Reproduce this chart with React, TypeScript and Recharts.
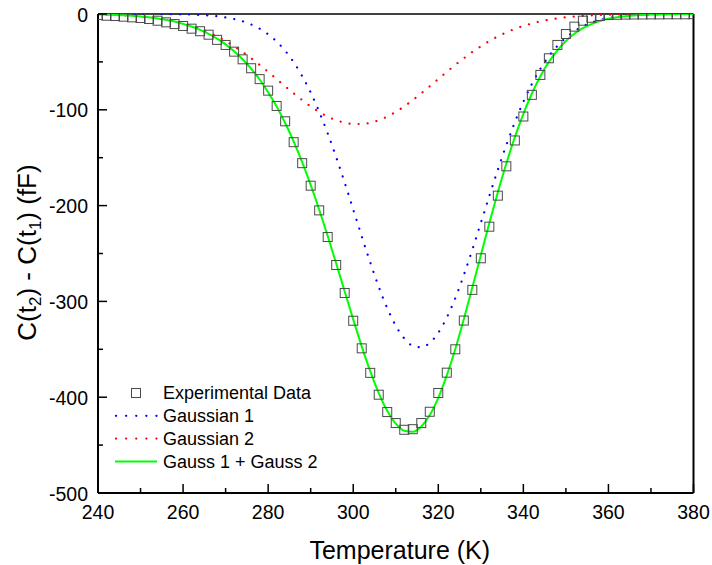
import {
  ComposedChart,
  Line,
  Scatter,
  XAxis,
  YAxis,
  ReferenceLine,
  Legend,
  Label,
} from "recharts";

const FONT = '"Liberation Sans", Arial, sans-serif';

// temperature (K), one point every 2 K
const temperature = [
  240, 242, 244, 246, 248, 250, 252, 254, 256, 258, 260, 262, 264, 266, 268,
  270, 272, 274, 276, 278, 280, 282, 284, 286, 288, 290, 292, 294, 296, 298,
  300, 302, 304, 306, 308, 310, 312, 314, 316, 318, 320, 322, 324, 326, 328,
  330, 332, 334, 336, 338, 340, 342, 344, 346, 348, 350, 352, 354, 356, 358,
  360, 362, 364, 366, 368, 370, 372, 374, 376, 378, 380,
];

const experimental = [
  -1.1, -1.8, -2.1, -2.8, -3.5, -4.2, -5.2, -7.0, -8.7, -10.5, -12.5, -15.3,
  -18.0, -21.6, -27.0, -32.3, -39.3, -47.3, -56.6, -68.0, -80.0, -96.0, -112.0,
  -133.8, -155.7, -179.2, -205.0, -232.8, -262.0, -291.2, -320.2, -349.0,
  -374.6, -397.4, -415.5, -427.0, -434.0, -433.4, -427.0, -415.2, -395.6,
  -374.4, -350.0, -320.0, -288.0, -255.0, -222.0, -189.6, -159.0, -132.0,
  -107.0, -84.4, -63.6, -46.2, -32.3, -20.9, -13.2, -7.0, -3.9, -2.1, -1.0,
  -0.8, -0.6, -0.5, -0.5, -0.4, -0.4, -0.3, -0.3, -0.3, -0.2,
];

const gaussian1 = [
  0, 0, 0, 0, 0, 0, 0, 0, -0.1, -0.2, -0.4, -0.6, -1.0, -1.5, -2.3, -3.5, -5.2,
  -7.6, -10.9, -15.3, -21.2, -28.7, -38.4, -50.3, -64.8, -82.0, -102.0, -124.6,
  -149.5, -176.1, -204.0, -232.1, -259.3, -284.8, -307.1, -325.4, -338.6,
  -346.3, -347.8, -343.2, -332.7, -316.8, -296.5, -272.5, -246.0, -218.1,
  -190.0, -162.6, -136.8, -113.0, -91.7, -73.1, -57.2, -44.0, -33.3, -24.7,
  -18.0, -12.9, -9.1, -6.3, -4.3, -2.9, -1.9, -1.2, -0.8, -0.5, -0.3, -0.2,
  -0.1, -0.1, 0,
];

const gaussian2 = [
  -0.5, -0.7, -1.0, -1.4, -1.9, -2.6, -3.4, -4.6, -6.0, -7.7, -9.9, -12.5,
  -15.6, -19.2, -23.4, -28.2, -33.7, -39.6, -46.2, -53.1, -60.4, -67.9, -75.4,
  -82.8, -89.8, -96.4, -102.2, -107.1, -110.9, -113.5, -114.8, -114.8, -113.5,
  -110.9, -107.1, -102.2, -96.4, -89.8, -82.8, -75.4, -67.9, -60.4, -53.1,
  -46.2, -39.6, -33.7, -28.2, -23.4, -19.2, -15.6, -12.5, -9.9, -7.7, -6.0,
  -4.6, -3.4, -2.6, -1.9, -1.4, -1.0, -0.7, -0.5, -0.35, -0.25, -0.15, -0.1,
  -0.1, -0.05, 0, 0, 0,
];

const gaussSum = [
  -0.5, -0.7, -1.0, -1.4, -1.9, -2.6, -3.4, -4.6, -6.1, -7.9, -10.3, -13.1,
  -16.6, -20.7, -25.7, -31.7, -38.9, -47.2, -57.1, -68.4, -81.6, -96.6, -113.8,
  -133.1, -154.6, -178.4, -204.2, -231.7, -260.4, -289.6, -318.8, -346.9,
  -372.8, -395.7, -414.2, -427.6, -435.0, -436.1, -430.6, -418.6, -400.6,
  -377.2, -349.6, -318.7, -285.6, -251.8, -218.2, -186.0, -156.0, -128.6,
  -104.2, -83.0, -64.9, -50.0, -37.9, -28.1, -20.6, -14.8, -10.5, -7.3, -5.0,
  -3.4, -2.3, -1.5, -1.0, -0.6, -0.4, -0.25, -0.1, -0.05, 0,
];

// ticks: majors get a label, minors only a short mark
const xTicks = [240, 250, 260, 270, 280, 290, 300, 310, 320, 330, 340, 350, 360, 370, 380];
const xMajor = [240, 260, 280, 300, 320, 340, 360, 380];
const yTicks = [0, -50, -100, -150, -200, -250, -300, -350, -400, -450, -500];
const yMajor = [0, -100, -200, -300, -400, -500];

const legendItems = ["Experimental Data", "Gaussian 1", "Gaussian 2", "Gauss 1 + Gauss 2"];

const data = temperature.map((t, i) => ({
  t,
  exp: experimental[i],
  g1: gaussian1[i],
  g2: gaussian2[i],
  sum: gaussSum[i],
}));

// eslint-disable-next-line @typescript-eslint/no-explicit-any
function XTick({ x, y, payload }: any) {
  const major = xMajor.includes(payload.value);
  return (
    <g>
      <line x1={x} x2={x} y1={y} y2={y - (major ? 9 : 5)} stroke="#000" strokeWidth={1.5} />
      {major && (
        <text x={x} y={y + 26} textAnchor="middle" fontSize={19.5} fontFamily={FONT} fill="#000">
          {payload.value}
        </text>
      )}
    </g>
  );
}

// eslint-disable-next-line @typescript-eslint/no-explicit-any
function YTick({ x, y, payload }: any) {
  const major = yMajor.includes(payload.value);
  return (
    <g>
      <line x1={x} x2={x + (major ? 9 : 5)} y1={y} y2={y} stroke="#000" strokeWidth={1.5} />
      {major && (
        <text x={x - 10} y={y + 7.5} textAnchor="end" fontSize={19.5} fontFamily={FONT} fill="#000">
          {payload.value}
        </text>
      )}
    </g>
  );
}

// eslint-disable-next-line @typescript-eslint/no-explicit-any
function SquareMarker({ cx, cy }: any) {
  if (cx == null || cy == null) return null;
  return (
    <rect x={cx - 4.5} y={cy - 4.5} width={9} height={9} fill="none" stroke="#4a4a4a" strokeWidth={1} />
  );
}

// eslint-disable-next-line @typescript-eslint/no-explicit-any
function XTitle({ viewBox }: any) {
  const cx = viewBox.x + viewBox.width / 2 + 4;
  return (
    <text x={cx} y={viewBox.y + 66} textAnchor="middle" fontSize={25} fontFamily={FONT} fill="#000">
      Temperature (K)
    </text>
  );
}

// eslint-disable-next-line @typescript-eslint/no-explicit-any
function YTitle({ viewBox }: any) {
  const cy = viewBox.y + viewBox.height / 2 - 1;
  const cx = 36;
  return (
    <text
      x={cx}
      y={cy}
      textAnchor="middle"
      fontSize={26}
      fontFamily={FONT}
      fill="#000"
      transform={`rotate(-90 ${cx} ${cy})`}
    >
      <tspan>C(t</tspan>
      <tspan fontSize={17} dy={5}>2</tspan>
      <tspan dy={-5}>) - C(t</tspan>
      <tspan fontSize={17} dy={5}>1</tspan>
      <tspan dy={-5}>) (fF)</tspan>
    </text>
  );
}

function LegendBox() {
  const rowY = (i: number) => 13 + i * 22.8;
  return (
    <svg width={240} height={96} style={{ display: "block" }}>
      <rect x={26.5} y={rowY(0) - 4.5} width={9} height={9} fill="none" stroke="#4a4a4a" strokeWidth={1} />
      <line x1={11} x2={52} y1={rowY(1)} y2={rowY(1)} stroke="#0000ff" strokeWidth={2.2}
        strokeDasharray="0.1 10" strokeLinecap="round" />
      <line x1={11} x2={52} y1={rowY(2)} y2={rowY(2)} stroke="#ff0000" strokeWidth={2.2}
        strokeDasharray="0.1 10" strokeLinecap="round" />
      <line x1={10} x2={52} y1={rowY(3)} y2={rowY(3)} stroke="#00ff00" strokeWidth={2} />
      {legendItems.map((label, i) => (
        <text key={label} x={58} y={rowY(i) + 6.3} fontSize={18} fontFamily={FONT} fill="#000">
          {label}
        </text>
      ))}
    </svg>
  );
}

export default function App() {
  return (
    <div style={{ width: 712, height: 565, background: "#fff" }}>
      <style>{`body { margin: 0; }`}</style>
      <ComposedChart
        width={712}
        height={565}
        data={data}
        margin={{ top: 14, right: 18.5, bottom: 0, left: 0 }}
      >
        <XAxis
          dataKey="t"
          type="number"
          domain={[240, 380]}
          ticks={xTicks}
          interval={0}
          tickSize={0}
          tickMargin={0}
          tick={<XTick />}
          tickLine={false}
          axisLine={{ stroke: "#000", strokeWidth: 2 }}
          height={72}
          allowDataOverflow
        >
          <Label content={<XTitle />} />
        </XAxis>
        <YAxis
          type="number"
          domain={[-500, 0]}
          ticks={yTicks}
          interval={0}
          tickSize={0}
          tickMargin={0}
          tick={<YTick />}
          tickLine={false}
          axisLine={{ stroke: "#000", strokeWidth: 2 }}
          width={98}
          allowDataOverflow
        >
          <Label content={<YTitle />} />
        </YAxis>
        <ReferenceLine y={0} stroke="#000" strokeWidth={1.5} />
        <ReferenceLine x={380} stroke="#000" strokeWidth={2} />
        <Scatter dataKey="exp" shape={<SquareMarker />} isAnimationActive={false} />
        <Line
          type="monotone"
          dataKey="g1"
          stroke="#0000ff"
          strokeWidth={2.2}
          strokeDasharray="0.1 9"
          strokeLinecap="round"
          dot={false}
          activeDot={false}
          isAnimationActive={false}
        />
        <Line
          type="monotone"
          dataKey="g2"
          stroke="#ff0000"
          strokeWidth={2.2}
          strokeDasharray="0.1 9"
          strokeLinecap="round"
          dot={false}
          activeDot={false}
          isAnimationActive={false}
        />
        <Line
          type="monotone"
          dataKey="sum"
          stroke="#00ff00"
          strokeWidth={2}
          dot={false}
          activeDot={false}
          isAnimationActive={false}
        />
        <Legend
          layout="vertical"
          align="center"
          verticalAlign="middle"
          content={() => <LegendBox />}
          wrapperStyle={{ left: 105, top: 380, width: 240, height: 96 }}
        />
      </ComposedChart>
    </div>
  );
}
